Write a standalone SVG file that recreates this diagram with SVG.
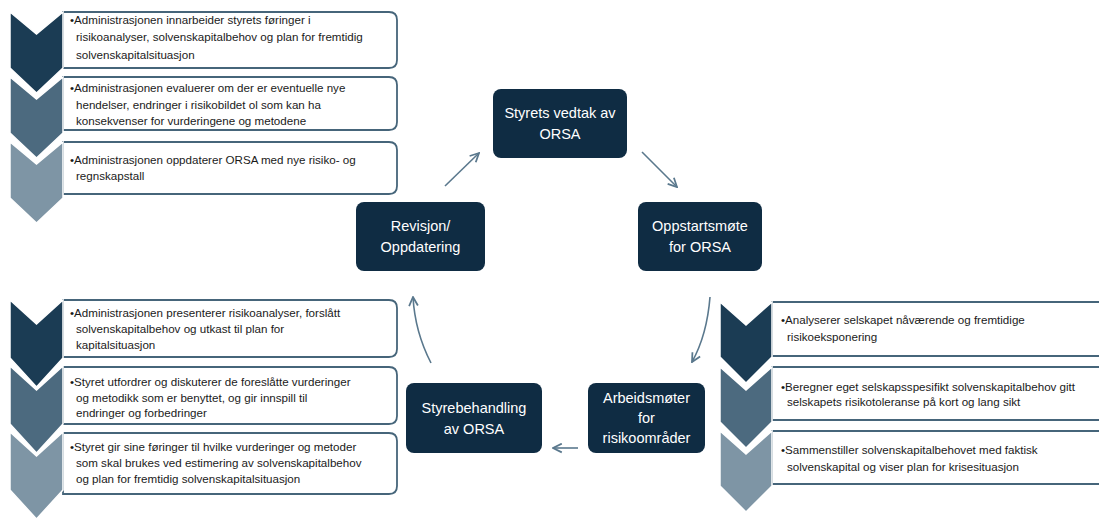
<svg xmlns="http://www.w3.org/2000/svg" width="1099" height="522" viewBox="0 0 1099 522">
  <defs>
    <style>
      .c1 { fill: #1b3c54; stroke: #ffffff; stroke-width: 1.5; }
      .c2 { fill: #4c6a7f; stroke: #ffffff; stroke-width: 1.5; }
      .c3 { fill: #7e95a5; stroke: #ffffff; stroke-width: 1.5; }
      .box { fill: #ffffff; stroke: #46657a; stroke-width: 1.8; }
      .bt { font-family: "Liberation Sans", Arial, sans-serif; font-size: 11.6px; fill: #1a1a1a; }
      .node { fill: #0f2c43; }
      .nt { font-family: "Liberation Sans", Arial, sans-serif; font-size: 14.5px; fill: #ffffff; text-anchor: middle; }
      .conn { fill: none; stroke: #5a788d; stroke-width: 1.6; marker-end: url(#arr); }
    </style>
    <marker id="arr" viewBox="0 0 10 10" refX="9" refY="5" markerWidth="11" markerHeight="11" markerUnits="userSpaceOnUse" orient="auto">
      <path d="M1,1 L9,5 L1,9" fill="none" stroke="#5a788d" stroke-width="1.6"/>
    </marker>
  </defs>
  <rect width="1099" height="522" fill="#ffffff"/>

  <!-- Top-left list -->
  <g id="list-top-left">
    <path class="box" d="M63,12 H389 Q397,12 397,20 V60 Q397,68 389,68 H63 Z"/>
    <path class="box" d="M63,77 H389 Q397,77 397,85 V122 Q397,130 389,130 H63 Z"/>
    <path class="box" d="M63,142 H389 Q397,142 397,150 V186 Q397,194 389,194 H63 Z"/>
    <path class="c3" d="M10,142 L36.5,164 L63,142 L63,198 L36.5,223 L10,198 Z"/>
    <path class="c2" d="M10,77 L36.5,99 L63,77 L63,133 L36.5,158 L10,133 Z"/>
    <path class="c1" d="M10,12 L36.5,34 L63,12 L63,68 L36.5,93 L10,68 Z"/>
    <text class="bt"><tspan x="70" y="24">•Administrasjonen innarbeider styrets føringer i</tspan><tspan x="76" y="41">risikoanalyser, solvenskapitalbehov og plan for fremtidig</tspan><tspan x="76" y="59">solvenskapitalsituasjon</tspan></text>
    <text class="bt"><tspan x="70" y="92">•Administrasjonen evaluerer om der er eventuelle nye</tspan><tspan x="76" y="109">hendelser, endringer i risikobildet ol som kan ha</tspan><tspan x="76" y="125">konsekvenser for vurderingene og metodene</tspan></text>
    <text class="bt"><tspan x="70" y="164">•Administrasjonen oppdaterer ORSA med nye risiko- og</tspan><tspan x="76" y="180">regnskapstall</tspan></text>
  </g>

  <!-- Bottom-left list -->
  <g id="list-bottom-left">
    <path class="box" d="M63,300 H389 Q397,300 397,308 V349 Q397,357 389,357 H63 Z"/>
    <path class="box" d="M63,367 H389 Q397,367 397,375 V416 Q397,424 389,424 H63 Z"/>
    <path class="box" d="M63,433 H389 Q397,433 397,441 V486 Q397,494 389,494 H63 Z"/>
    <path class="c3" d="M10,432 L36.5,456 L63,432 L63,490 L36.5,519 L10,490 Z"/>
    <path class="c2" d="M10,366 L36.5,390 L63,366 L63,424 L36.5,453 L10,424 Z"/>
    <path class="c1" d="M10,300 L36.5,324 L63,300 L63,358 L36.5,387 L10,358 Z"/>
    <text class="bt"><tspan x="70" y="317">•Administrasjonen presenterer risikoanalyser, forslått</tspan><tspan x="76" y="333">solvenskapitalbehov og utkast til plan for</tspan><tspan x="76" y="349">kapitalsituasjon</tspan></text>
    <text class="bt"><tspan x="70" y="386">•Styret utfordrer og diskuterer de foreslåtte vurderinger</tspan><tspan x="76" y="402">og metodikk som er benyttet, og gir innspill til</tspan><tspan x="76" y="417">endringer og forbedringer</tspan></text>
    <text class="bt"><tspan x="70" y="451">•Styret gir sine føringer til hvilke vurderinger og metoder</tspan><tspan x="76" y="467">som skal brukes ved estimering av solvenskapitalbehov</tspan><tspan x="76" y="483">og plan for fremtidig solvenskapitalsituasjon</tspan></text>
  </g>

  <!-- Bottom-right list -->
  <g id="list-bottom-right">
    <path class="box" d="M772,302 H1110 V356 H772 Z"/>
    <path class="box" d="M772,367 H1110 V420 H772 Z"/>
    <path class="box" d="M772,431 H1110 V484 H772 Z"/>
    <path class="c3" d="M720,431 L746,454 L772,431 L772,486 L746,512 L720,486 Z"/>
    <path class="c2" d="M720,367 L746,390 L772,367 L772,422 L746,448 L720,422 Z"/>
    <path class="c1" d="M720,302 L746,325 L772,302 L772,357 L746,383 L720,357 Z"/>
    <text class="bt"><tspan x="781" y="324">•Analyserer selskapet nåværende og fremtidige</tspan><tspan x="787" y="341">risikoeksponering</tspan></text>
    <text class="bt"><tspan x="781" y="391">•Beregner eget selskapsspesifikt solvenskapitalbehov gitt</tspan><tspan x="787" y="406">selskapets risikotoleranse på kort og lang sikt</tspan></text>
    <text class="bt"><tspan x="781" y="454">•Sammenstiller solvenskapitalbehovet med faktisk</tspan><tspan x="787" y="471">solvenskapital og viser plan for krisesituasjon</tspan></text>
  </g>

  <!-- Cycle nodes -->
  <g id="node-styrets-vedtak">
    <rect class="node" x="493" y="89" width="134" height="69" rx="8"/>
    <text class="nt"><tspan x="560" y="118">Styrets vedtak av</tspan><tspan x="560" y="139">ORSA</tspan></text>
  </g>
  <g id="node-oppstartsmote">
    <rect class="node" x="638" y="202" width="124" height="69" rx="8"/>
    <text class="nt"><tspan x="700" y="231">Oppstartsmøte</tspan><tspan x="700" y="252">for ORSA</tspan></text>
  </g>
  <g id="node-arbeidsmoter">
    <rect class="node" x="588" y="383" width="117" height="70" rx="8"/>
    <text class="nt"><tspan x="646.5" y="403">Arbeidsmøter</tspan><tspan x="646.5" y="423">for</tspan><tspan x="646.5" y="443">risikoområder</tspan></text>
  </g>
  <g id="node-styrebehandling">
    <rect class="node" x="406" y="383" width="136" height="70" rx="8"/>
    <text class="nt"><tspan x="474" y="413">Styrebehandling</tspan><tspan x="474" y="434">av ORSA</tspan></text>
  </g>
  <g id="node-revisjon">
    <rect class="node" x="356" y="202" width="129" height="69" rx="8"/>
    <text class="nt"><tspan x="420.5" y="231">Revisjon/</tspan><tspan x="420.5" y="252">Oppdatering</tspan></text>
  </g>

  <!-- Connectors -->
  <g id="connectors">
    <path class="conn" d="M445,186 L479,153"/>
    <path class="conn" d="M642,152 L677,187"/>
    <path class="conn" d="M710,297 Q707,335 692,362"/>
    <path class="conn" d="M578,448 L553,448"/>
    <path class="conn" d="M431,363 Q415,332 413,297"/>
  </g>
</svg>
